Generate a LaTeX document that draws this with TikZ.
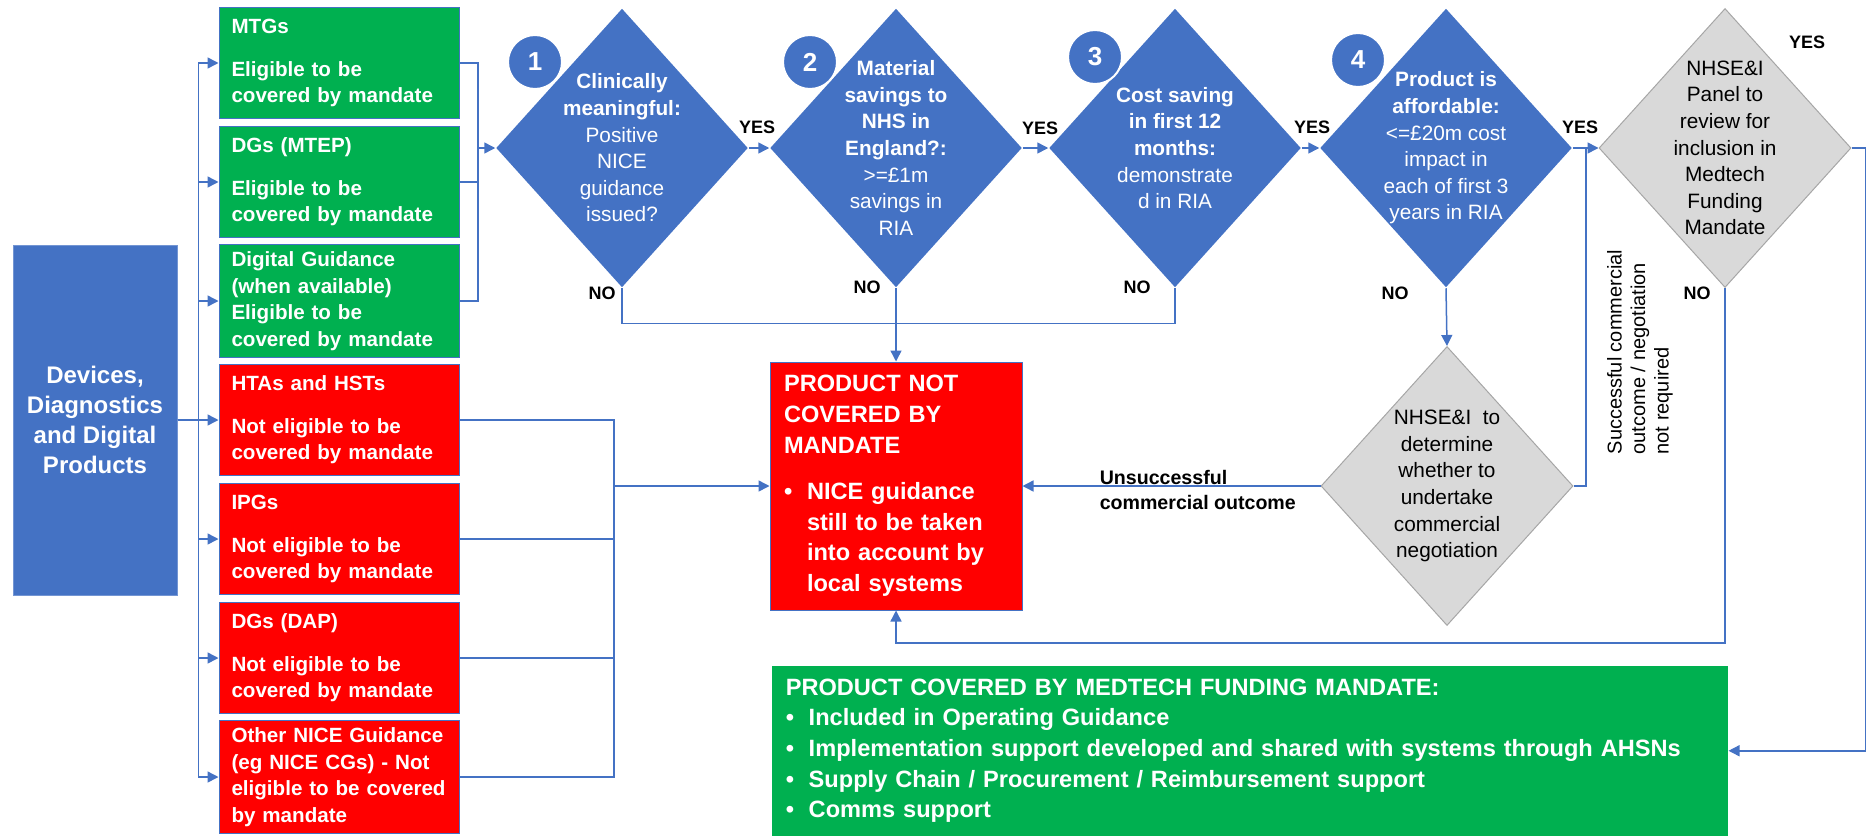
\documentclass[tikz,border=0pt]{standalone}
\usepackage{fontspec}
\setmainfont{Liberation Sans}
\usepackage{xcolor}
\usetikzlibrary{arrows.meta, shapes.geometric}
\definecolor{bl}{HTML}{4472C4}
\definecolor{gn}{HTML}{00B050}
\definecolor{rd}{HTML}{FF0000}
\definecolor{lg}{HTML}{D9D9D9}
\definecolor{dg}{HTML}{A6A6A6}

\begin{document}
\begin{tikzpicture}[
            x = 0.5pt, y = -0.5pt, % one unit = one pixel, y going down
            > = {Triangle[length = 5.5pt, width = 5.5pt]}, % arrow head style
            line width = 0.75pt % line style
        ]

        \tikzstyle{box}=[
            rectangle,
            draw = bl,
            line width = 0.5pt,
            text = white,
            font = \fontsize{10.3}{13.3}\selectfont\bfseries,
            minimum height = 55.75pt,
            text width = 107.5pt,
            inner xsep = 6.25pt,
            align = left
        ]
        \tikzstyle{outcome}=[
            rectangle,
            text = white,
            font = \fontsize{11.8}{15.3}\selectfont\bfseries,
            inner xsep = 7pt,
            align = left
        ]
        \tikzstyle{choice}=[
            diamond,
            fill = bl,
            minimum width = 126pt,
            minimum height = 139.5pt,
            inner sep = 0pt
        ]
        \tikzstyle{panel}=[choice, fill = lg, draw = dg, line width = 0.5pt]
        \tikzstyle{choice text}=[align = center, text = white, inner sep = 0pt,
            font = \fontsize{10.4}{13.3}\selectfont]
        \tikzstyle{badge}=[
            circle,
            fill = bl,
            draw = white,
            line width = 1pt,
            minimum size = 27pt,
            inner sep = 0pt,
            text = white,
            font = \fontsize{13}{13}\selectfont\bfseries
        ]
        \tikzstyle{tag}=[inner sep = 0pt, font = \fontsize{9}{9}\selectfont\bfseries]
        \tikzstyle{line}=[draw = bl]
        \tikzstyle{link}=[draw = bl, ->]

        \useasboundingbox (0, 0) rectangle (1866, 835);

        % start
        \node[rectangle, fill = bl, draw = bl!75!white, line width = 0.5pt, text = white,
            minimum width = 82pt, minimum height = 175pt, align = center,
            font = \fontsize{12}{15}\selectfont\bfseries] (src) [at={(95, 420)}]
            {Devices,\\Diagnostics\\and Digital\\Products};

        % guidance types
        \node[box, fill = gn] (mtg) [at={(339, 63)}] {MTGs\\[8pt]Eligible to be\\covered by mandate};
        \node[box, fill = gn] (dgm) [at={(339, 182)}] {DGs (MTEP)\\[8pt]Eligible to be\\covered by mandate};
        \node[box, fill = gn] (dig) [at={(339, 301)}] {Digital Guidance\\(when available)\\Eligible to be\\covered by mandate};
        \node[box, fill = rd] (hta) [at={(339, 420)}] {HTAs and HSTs\\[8pt]Not eligible to be\\covered by mandate};
        \node[box, fill = rd] (ipg) [at={(339, 539)}] {IPGs\\[8pt]Not eligible to be\\covered by mandate};
        \node[box, fill = rd] (dgd) [at={(339, 658)}] {DGs (DAP)\\[8pt]Not eligible to be\\covered by mandate};
        \node[box, fill = rd] (oth) [at={(339, 777)}] {Other NICE Guidance\\(eg NICE CGs) - Not\\eligible to be covered\\by mandate};

        % tests
        \node[choice] (d1) [at={(622, 148)}] {};
        \node[choice] (d2) [at={(896, 148)}] {};
        \node[choice] (d3) [at={(1175, 148)}] {};
        \node[choice] (d4) [at={(1446, 148)}] {};
        \node[panel] (d5) [at={(1725, 148)}] {};
        \node[panel] (d6) [at={(1447, 486)}] {};

        \node[choice text] (d1t) [at={(d1)}] {\textbf{Clinically}\\\textbf{meaningful:}\\Positive\\NICE\\guidance\\issued?};
        \node[choice text] (d2t) [at={(d2)}] {\textbf{Material}\\\textbf{savings to}\\\textbf{NHS in}\\\textbf{England?:}\\>=£1m\\savings in\\RIA};
        \node[choice text] (d3t) [at={(d3)}] {\textbf{Cost saving}\\\textbf{in first 12}\\\textbf{months:}\\demonstrate\\d in RIA};
        \node[choice text] (d4t) [at={(d4)}] {\textbf{Product is}\\\textbf{affordable:}\\<=£20m cost\\impact in\\each of first 3\\years in RIA};
        \node[choice text, text = black] (d5t) [at={(d5)}] {NHSE\&I\\Panel to\\review for\\inclusion in\\Medtech\\Funding\\Mandate};
        \node[choice text, text = black] (d6t) [at={(d6)}] {NHSE\&I~~to\\determine\\whether to\\undertake\\commercial\\negotiation};

        \node[badge] (n1) [at={(535, 62)}] {1};
        \node[badge] (n2) [at={(810, 62)}] {2};
        \node[badge] (n3) [at={(1095, 57)}] {3};
        \node[badge] (n4) [at={(1358, 60)}] {4};

        % results
        \node[outcome, fill = rd, draw = bl, line width = 0.5pt, minimum width = 126pt,
            minimum height = 124pt, text width = 112pt] (notcov) [at={(896, 486)}]
            {PRODUCT NOT\\COVERED BY\\MANDATE\\[8pt]\makebox[11.5pt][l]{\textbullet}NICE guidance\\\hspace*{11.5pt}still to be taken\\\hspace*{11.5pt}into account by\\\hspace*{11.5pt}local systems};
        \node[outcome, fill = gn, minimum width = 478pt, minimum height = 85pt,
            text width = 464pt, anchor = north west] (cov) [at={(771, 665)}]
            {PRODUCT COVERED BY MEDTECH FUNDING MANDATE:\\
            \makebox[11.5pt][l]{\textbullet}Included in Operating Guidance\\
            \makebox[11.5pt][l]{\textbullet}Implementation support developed and shared with systems through AHSNs\\
            \makebox[11.5pt][l]{\textbullet}Supply Chain / Procurement / Reimbursement support\\
            \makebox[11.5pt][l]{\textbullet}Comms support};

        % labels
        \node[tag] (y1) [at={(757, 127)}] {YES};
        \node[tag] (y2) [at={(1040, 128)}] {YES};
        \node[tag] (y3) [at={(1312, 127)}] {YES};
        \node[tag] (y4) [at={(1580, 127)}] {YES};
        \node[tag] (y5) [at={(1807, 42)}] {YES};
        \node[tag] (no1) [at={(602, 293)}] {NO};
        \node[tag] (no2) [at={(867, 287)}] {NO};
        \node[tag] (no3) [at={(1137, 287)}] {NO};
        \node[tag] (no4) [at={(1395, 293)}] {NO};
        \node[tag] (no5) [at={(1697, 293)}] {NO};
        \node[inner sep = 0pt, align = left, anchor = west,
            font = \fontsize{9.8}{12.5}\selectfont\bfseries] (fail) [at={(1099, 490)}]
            {Unsuccessful\\commercial outcome};
        \node[inner sep = 0pt, align = left, anchor = west, rotate = 90,
            font = \fontsize{10}{11.75}\selectfont] (pass) [at={(1640, 455)}]
            {Successful commercial\\outcome / negotiation\\not required};

        % connectors
        \draw[link] (src.east) -- ++(21, 0) |- (mtg.west);
        \draw[link] (src.east) -- ++(21, 0) |- (dgm.west);
        \draw[link] (src.east) -- ++(21, 0) |- (dig.west);
        \draw[link] (src.east) -- ++(21, 0) |- (hta.west);
        \draw[link] (src.east) -- ++(21, 0) |- (ipg.west);
        \draw[link] (src.east) -- ++(21, 0) |- (dgd.west);
        \draw[link] (src.east) -- ++(21, 0) |- (oth.west);

        \coordinate (gj) at (478, 148);
        \draw[line] (mtg.east) -| (gj);
        \draw[line] (dgm.east) -| (gj);
        \draw[line] (dig.east) -| (gj);
        \draw[link] (gj) -- (d1.west);

        \coordinate (rj) at (614, 486);
        \draw[line] (hta.east) -| (rj);
        \draw[line] (ipg.east) -| (rj);
        \draw[line] (dgd.east) -| (rj);
        \draw[line] (oth.east) -| (rj);
        \draw[link] (rj) -- (notcov.west);

        \draw[link] (d1.east) -- (d2.west);
        \draw[link] (d2.east) -- (d3.west);
        \draw[link] (d3.east) -- (d4.west);
        \draw[link] (d4.east) -- (d5.west);

        \draw[line] (d1.south) -- ++(0, 35) -| (d3.south);
        \draw[link] (d2.south) -- (notcov.north);
        \draw[link] (d4.south) -- (d6.north);
        \draw[link] (d6.west) -- (notcov.east);
        \coordinate (jn) at (1586, 148);
        \draw[line] (d6.east) -| (jn);
        \draw[link] (d5.south) -- ++(0, 355) -| (notcov.south);
        \draw[link] (d5.east) -- ++(14, 0) |- (cov.east);
    \end{tikzpicture}
\end{document}
